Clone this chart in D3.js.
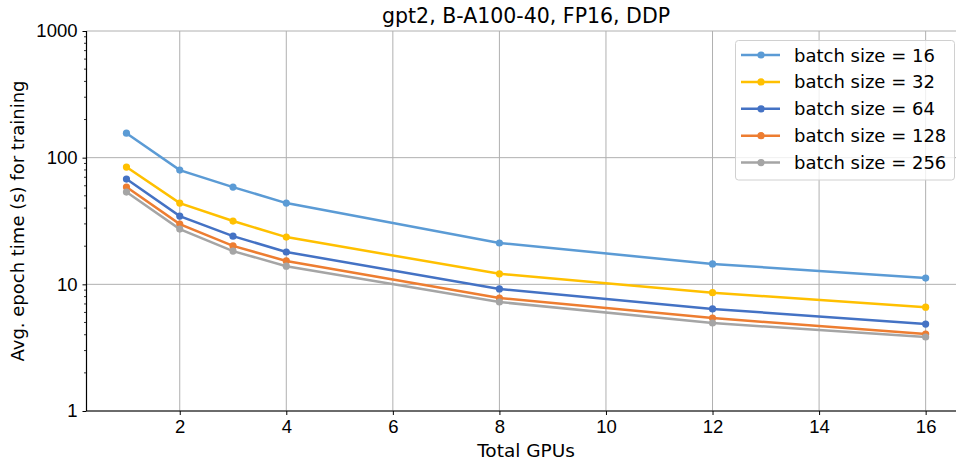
<!DOCTYPE html>
<html><head><meta charset="utf-8">
<script src="https://cdn.jsdelivr.net/npm/d3@7"></script>
<style>body{margin:0;background:#fff}svg{display:block;font-family:"DejaVu Sans",sans-serif}</style>
</head><body><svg id="c" width="956" height="465"></svg>
<script>
const gpus = [1, 2, 3, 4, 8, 12, 16];
const bs16  = [156, 79.8, 58.6, 43.8, 21.2, 14.5, 11.2];
const bs32  = [84.3, 43.8, 31.6, 23.6, 12.1, 8.6, 6.6];
const bs64  = [67.8, 34.6, 24.0, 18.0, 9.2, 6.4, 4.86];
const bs128 = [58.6, 29.9, 20.1, 15.3, 7.8, 5.42, 4.05];
const bs256 = [53.5, 27.3, 18.3, 13.9, 7.25, 4.95, 3.84];
const seriesNames = ["batch size = 16","batch size = 32","batch size = 64","batch size = 128","batch size = 256"];
const seriesVals = [bs16, bs32, bs64, bs128, bs256];
const colors = ["#5b9bd5","#ffc000","#4472c4","#ed7d31","#a5a5a5"];
const xTicks = [2,4,6,8,10,12,14,16];
const yTicks = [1,10,100,1000];

const svg = d3.select("#c");
const L = 86.5, R = 965.6, T = 31, B = 411;
const x = d3.scaleLinear().domain([0.25, 16.75]).range([L, R]);
const y = d3.scaleLog().domain([1, 1000]).range([B, T]);

// grid
const g = svg.append("g");
g.selectAll(".gx").data(xTicks).join("line").attr("x1",d=>x(d)).attr("x2",d=>x(d)).attr("y1",T).attr("y2",B).attr("stroke","#b0b0b0").attr("stroke-width",1);
g.selectAll(".gy").data(yTicks).join("line").attr("x1",L).attr("x2",R).attr("y1",d=>y(d)).attr("y2",d=>y(d)).attr("stroke","#b0b0b0").attr("stroke-width",1);

// axes
const xa = svg.append("g").attr("transform",`translate(0,${B})`).call(d3.axisBottom(x).tickValues(xTicks).tickFormat(d3.format("d")).tickSize(4).tickPadding(5));
xa.select(".domain").remove();
xa.selectAll("text").attr("font-size",18.5).attr("fill","#000");
const minor = [];
for (let e=0;e<3;e++) for (let k=2;k<10;k++) minor.push(k*Math.pow(10,e));
svg.append("g").selectAll("line").data(minor).join("line").attr("x1",L-2.5).attr("x2",L).attr("y1",d=>y(d)).attr("y2",d=>y(d)).attr("stroke","#000").attr("stroke-width",0.8);
const ya = svg.append("g").attr("transform",`translate(${L},0)`).call(d3.axisLeft(y).tickValues(yTicks).tickFormat(d3.format("d")).tickSize(4).tickPadding(5));
ya.select(".domain").remove();
ya.selectAll("text").attr("font-size",18.5).attr("fill","#000");
svg.append("line").attr("x1",L).attr("x2",L).attr("y1",T).attr("y2",B).attr("stroke","#000").attr("stroke-width",1.2);
svg.append("line").attr("x1",L).attr("x2",R).attr("y1",B).attr("y2",B).attr("stroke","#000").attr("stroke-width",1.2);

// lines
const line = d3.line().x((d,i)=>x(gpus[i])).y(d=>y(d));
seriesVals.forEach((vals,si)=>{
  svg.append("path").datum(vals).attr("d",line).attr("fill","none").attr("stroke",colors[si]).attr("stroke-width",2.5);
  svg.append("g").selectAll("circle").data(vals).join("circle").attr("cx",(d,i)=>x(gpus[i])).attr("cy",d=>y(d)).attr("r",3.6).attr("fill",colors[si]);
});

// title & labels
svg.append("text").attr("x",(L+R)/2).attr("y",23).attr("text-anchor","middle").attr("font-size",20.5).text("gpt2, B-A100-40, FP16, DDP");
svg.append("text").attr("x",(L+R)/2).attr("y",457).attr("text-anchor","middle").attr("font-size",18.5).text("Total GPUs");
svg.append("text").attr("transform",`translate(24,${(T+B)/2}) rotate(-90)`).attr("text-anchor","middle").attr("font-size",18).text("Avg. epoch time (s) for training");

// legend
const lg = svg.append("g");
lg.append("rect").attr("x",735.5).attr("y",40.5).attr("width",219).attr("height",139.5).attr("rx",3).attr("fill","#fff").attr("fill-opacity",0.8).attr("stroke","#d0d0d0");
seriesNames.forEach((n,i)=>{
  const yy = 55 + i*26.9;
  lg.append("line").attr("x1",741).attr("x2",780).attr("y1",yy).attr("y2",yy).attr("stroke",colors[i]).attr("stroke-width",2.5);
  lg.append("circle").attr("cx",761).attr("cy",yy).attr("r",3.6).attr("fill",colors[i]);
  lg.append("text").attr("x",794).attr("y",yy+6.5).attr("font-size",18).text(n);
});
</script></body></html>
